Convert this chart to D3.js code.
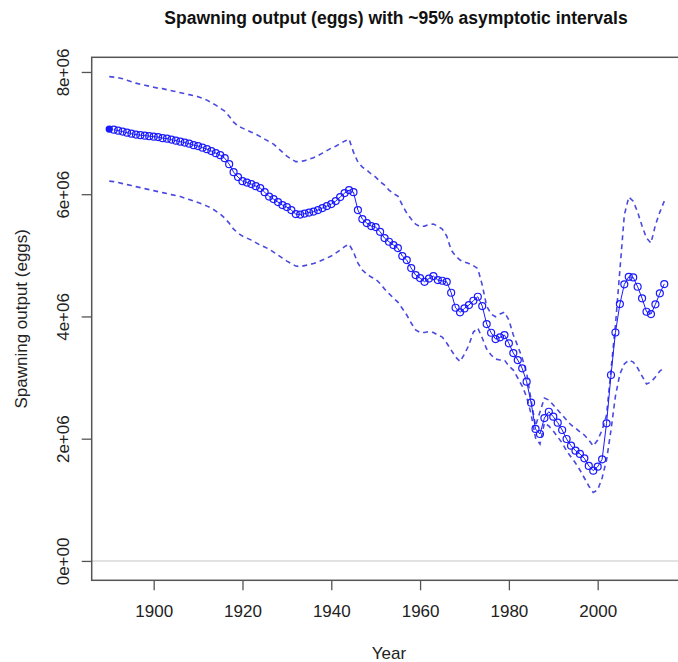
<!DOCTYPE html>
<html>
<head>
<meta charset="utf-8">
<script src="https://cdn.jsdelivr.net/npm/d3@7"></script>
<style>
  html, body { margin: 0; padding: 0; background: #fff; }
  svg { display: block; font-family: "Liberation Sans", Arial, sans-serif; }
</style>
</head>
<body>
<svg id="chart" width="678" height="662"></svg>
<script>
// ---- Data (spawning output in millions of eggs) ----
const startYear = 1890;               // first (virgin) year, drawn filled
const endYear = 2015;
const years = d3.range(startYear, endYear + 1);

const spawnOutput = [
  7.065, 7.056, 7.040, 7.024, 7.007, 6.991, 6.975, 6.966, 6.958, 6.950,
  6.942, 6.934, 6.917, 6.909, 6.893, 6.876, 6.860, 6.844, 6.827, 6.803,
  6.787, 6.762, 6.737, 6.705, 6.672, 6.639, 6.590, 6.492, 6.361, 6.280,
  6.214, 6.190, 6.165, 6.132, 6.100, 6.034, 5.961, 5.920, 5.871, 5.822,
  5.789, 5.740, 5.675, 5.666, 5.683, 5.699, 5.715, 5.740, 5.773, 5.805,
  5.838, 5.887, 5.953, 6.018, 6.067, 6.034, 5.740, 5.593, 5.527, 5.478,
  5.462, 5.385, 5.282, 5.222, 5.168, 5.118, 4.988, 4.922, 4.791, 4.677,
  4.628, 4.567, 4.620, 4.661, 4.595, 4.584, 4.567, 4.388, 4.142, 4.067,
  4.132, 4.186, 4.257, 4.322, 4.170, 3.876, 3.733, 3.630, 3.658, 3.696,
  3.560, 3.401, 3.287, 3.151, 2.932, 2.589, 2.159, 2.077, 2.338, 2.441,
  2.360, 2.262, 2.142, 1.995, 1.886, 1.804, 1.750, 1.679, 1.554, 1.477,
  1.542, 1.663, 2.252, 3.042, 3.737, 4.203, 4.525, 4.649, 4.639, 4.486,
  4.296, 4.077, 4.039, 4.198, 4.378, 4.530
];

const upperCI = [
  7.923, 7.915, 7.907, 7.890, 7.866, 7.841, 7.817, 7.800, 7.784, 7.768,
  7.751, 7.735, 7.727, 7.710, 7.694, 7.678, 7.661, 7.645, 7.629, 7.612,
  7.596, 7.571, 7.539, 7.498, 7.457, 7.408, 7.359, 7.277, 7.179, 7.114,
  7.081, 7.048, 7.015, 6.983, 6.942, 6.901, 6.860, 6.819, 6.754, 6.688,
  6.623, 6.574, 6.533, 6.533, 6.549, 6.574, 6.598, 6.631, 6.672, 6.713,
  6.754, 6.786, 6.827, 6.868, 6.901, 6.688, 6.525, 6.443, 6.394, 6.329,
  6.280, 6.206, 6.149, 6.067, 6.010, 5.969, 5.822, 5.691, 5.593, 5.511,
  5.470, 5.478, 5.503, 5.511, 5.478, 5.429, 5.315, 5.086, 4.988, 4.922,
  4.890, 4.865, 4.832, 4.783, 4.513, 4.170, 4.039, 3.995, 4.039, 4.072,
  3.941, 3.696, 3.516, 3.320, 3.074, 2.633, 2.208, 2.437, 2.666, 2.633,
  2.551, 2.469, 2.388, 2.306, 2.224, 2.175, 2.110, 2.060, 1.979, 1.881,
  1.979, 2.142, 2.388, 3.123, 3.859, 4.759, 5.658, 5.952, 5.887, 5.707,
  5.478, 5.282, 5.200, 5.495, 5.707, 5.887
];

const lowerCI = [
  6.214, 6.206, 6.190, 6.173, 6.157, 6.141, 6.124, 6.108, 6.091, 6.075,
  6.059, 6.042, 6.026, 6.010, 5.993, 5.977, 5.961, 5.936, 5.912, 5.887,
  5.863, 5.838, 5.805, 5.773, 5.724, 5.675, 5.609, 5.527, 5.429, 5.364,
  5.315, 5.282, 5.249, 5.208, 5.168, 5.135, 5.102, 5.053, 5.004, 4.955,
  4.906, 4.865, 4.824, 4.816, 4.832, 4.849, 4.865, 4.890, 4.922, 4.955,
  4.988, 5.037, 5.086, 5.143, 5.184, 5.053, 4.873, 4.759, 4.693, 4.644,
  4.612, 4.538, 4.448, 4.374, 4.301, 4.235, 4.129, 4.023, 3.892, 3.778,
  3.737, 3.737, 3.753, 3.737, 3.696, 3.663, 3.565, 3.450, 3.336, 3.262,
  3.385, 3.532, 3.745, 3.810, 3.647, 3.467, 3.369, 3.303, 3.287, 3.287,
  3.189, 3.123, 2.993, 2.862, 2.682, 2.404, 2.011, 1.913, 2.257, 2.208,
  2.126, 2.028, 1.930, 1.799, 1.701, 1.603, 1.488, 1.357, 1.226, 1.120,
  1.161, 1.357, 1.652, 2.142, 2.698, 3.058, 3.222, 3.287, 3.254, 3.156,
  3.025, 2.894, 2.927, 3.009, 3.107, 3.156
];

const xTicks = [1900, 1920, 1940, 1960, 1980, 2000];
const yTicks = [0, 2, 4, 6, 8];
const yTickLabels = ["0e+00", "2e+06", "4e+06", "6e+06", "8e+06"];

const titleText = "Spawning output (eggs) with ~95% asymptotic intervals";
const xLabel = "Year";
const yLabel = "Spawning output (eggs)";

// ---- Layout ----
const svg = d3.select("#chart");
const plot = { left: 91.7, top: 57.3, bottom: 580.3 };
const pxPerYear = 4.44;

// R-style 4% padding
const xPad = (endYear - 1891) * 0.04;
const xDomain = [1891 - xPad, endYear + xPad];
const x = d3.scaleLinear()
  .domain(xDomain)
  .range([plot.left, plot.left + (xDomain[1] - xDomain[0]) * pxPerYear]);

const yMax = d3.max(upperCI);
const yPad = yMax * 0.04;
const y = d3.scaleLinear()
  .domain([-yPad, yMax + yPad])
  .range([plot.bottom, plot.top]);

const blue = "#1a1aff";
const dashBlue = "#4a4ae0";
const axisGrey = "#555";

// zero reference line
svg.append("line")
  .attr("x1", plot.left).attr("x2", x.range()[1])
  .attr("y1", y(0)).attr("y2", y(0))
  .attr("stroke", "#d9d9d9").attr("stroke-width", 1.5);

// CI dashed lines
const line = d3.line().x((d, i) => x(years[i])).y(d => y(d));
[upperCI, lowerCI].forEach(arr => {
  svg.append("path")
    .attr("d", line(arr))
    .attr("fill", "none")
    .attr("stroke", dashBlue)
    .attr("stroke-width", 1.6)
    .attr("stroke-dasharray", "5,4");
});

// main line (from 1891 onwards)
const mainYears = years.slice(1);
const mainVals = spawnOutput.slice(1);
svg.append("path")
  .attr("d", d3.line().x((d, i) => x(mainYears[i])).y(d => y(d))(mainVals))
  .attr("fill", "none")
  .attr("stroke", blue)
  .attr("stroke-width", 1);

svg.append("g").selectAll("circle")
  .data(mainVals)
  .join("circle")
  .attr("cx", (d, i) => x(mainYears[i]))
  .attr("cy", d => y(d))
  .attr("r", 3.5)
  .attr("fill", "none")
  .attr("stroke", blue)
  .attr("stroke-width", 1.2);

// virgin point filled
svg.append("circle")
  .attr("cx", x(years[0]))
  .attr("cy", y(spawnOutput[0]))
  .attr("r", 3.7)
  .attr("fill", blue);

// box
svg.append("rect")
  .attr("x", plot.left).attr("y", plot.top)
  .attr("width", x.range()[1] - plot.left)
  .attr("height", plot.bottom - plot.top)
  .attr("fill", "none")
  .attr("stroke", axisGrey)
  .attr("stroke-width", 1.5);

// x axis ticks & labels
const xAxis = d3.axisBottom(x).tickValues(xTicks).tickSize(10).tickFormat(d3.format("d"));
const gx = svg.append("g")
  .attr("transform", `translate(0,${plot.bottom})`)
  .call(xAxis);
gx.select(".domain").remove();
gx.selectAll(".tick line").attr("stroke", axisGrey).attr("stroke-width", 1.3);
gx.selectAll(".tick text")
  .attr("y", 0).attr("dy", 0)
  .attr("transform", "translate(0,37)")
  .attr("font-size", 17)
  .attr("font-family", "Liberation Sans, Arial, sans-serif")
  .attr("fill", "#222");

// y axis ticks & labels (rotated, R style)
const yAxis = d3.axisLeft(y).tickValues(yTicks).tickSize(10)
  .tickFormat((d, i) => yTickLabels[i]);
const gy = svg.append("g")
  .attr("transform", `translate(${plot.left},0)`)
  .call(yAxis);
gy.select(".domain").remove();
gy.selectAll(".tick line").attr("stroke", axisGrey).attr("stroke-width", 1.3);
gy.selectAll(".tick text")
  .attr("x", 0).attr("dy", 0)
  .attr("text-anchor", "middle")
  .attr("transform", "translate(-23,0) rotate(-90)")
  .attr("font-size", 17)
  .attr("font-family", "Liberation Sans, Arial, sans-serif")
  .attr("fill", "#222");

// title
svg.append("text")
  .attr("x", 396).attr("y", 24)
  .attr("text-anchor", "middle")
  .attr("font-weight", "bold")
  .attr("font-size", 17.5)
  .attr("fill", "#111")
  .text(titleText);

// axis titles
svg.append("text")
  .attr("x", 389).attr("y", 659)
  .attr("text-anchor", "middle")
  .attr("font-size", 17)
  .attr("fill", "#222")
  .text(xLabel);

svg.append("text")
  .attr("transform", `translate(27,${(plot.top + plot.bottom) / 2}) rotate(-90)`)
  .attr("text-anchor", "middle")
  .attr("font-size", 17)
  .attr("fill", "#222")
  .text(yLabel);
</script>
</body>
</html>
